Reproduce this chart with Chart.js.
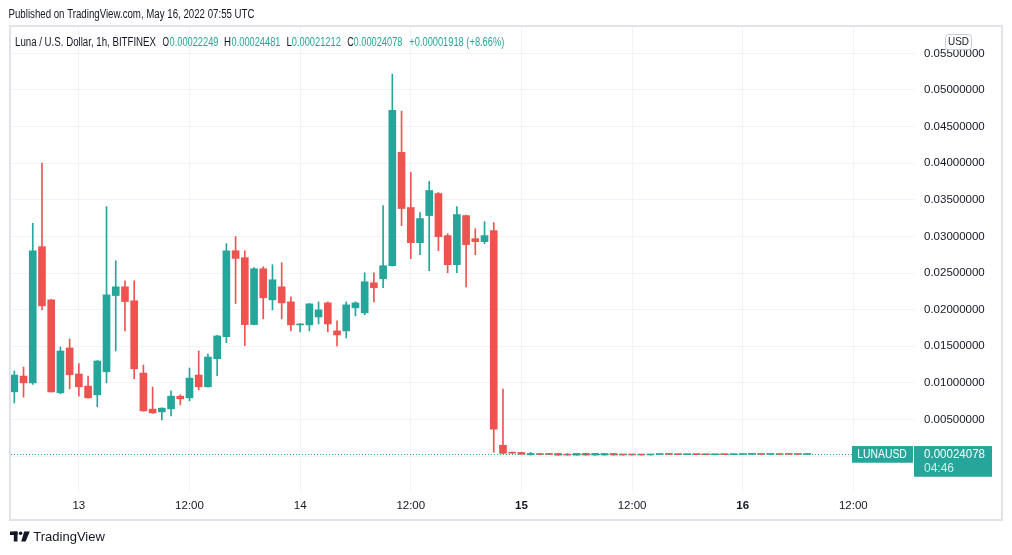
<!DOCTYPE html>
<html>
<head>
<meta charset="utf-8">
<script src="https://cdn.jsdelivr.net/npm/chart.js@4.4.1/dist/chart.umd.min.js"></script>
<style>
  html, body { margin: 0; padding: 0; background: #fff; }
  #wrap { width: 1012px; height: 555px; position: relative; }
</style>
</head>
<body>
<div id="wrap"><canvas id="chart"></canvas></div>
<script>
// LUNA/USD 1h candles, May 12 17:00 .. May 16 07:00 (UTC)
const opens = [
  0.00878, 0.01093, 0.01001, 0.02860, 0.02134, 0.00864, 0.01477, 0.01121, 0.00956, 0.00837,
  0.01152, 0.02193, 0.02312, 0.02121, 0.01134, 0.00641, 0.00604, 0.00645, 0.00819, 0.00796,
  0.01107, 0.00947, 0.01330, 0.01632, 0.02805, 0.02710, 0.01796, 0.02559, 0.02134, 0.02312,
  0.02107, 0.01792, 0.01792, 0.01901, 0.02093, 0.01710, 0.01710, 0.02025, 0.01956, 0.02367,
  0.02422, 0.02600, 0.04148, 0.03395, 0.02915, 0.03285, 0.03586, 0.03011, 0.02614, 0.03285,
  0.02970, 0.02929, 0.03079, 0.00148, 0.00052, 0.00050, 0.00018, 0.00035, 0.00036, 0.00036,
  0.00025, 0.00013, 0.00037, 0.00014, 0.00015, 0.00036, 0.00025, 0.00024, 0.00023, 0.00016,
  0.00022, 0.00026, 0.00023, 0.00020, 0.00023, 0.00021, 0.00019, 0.00022, 0.00020, 0.00022,
  0.00024, 0.00025, 0.00023, 0.00024, 0.00024, 0.00023, 0.00022249
];
const highs = [
  0.01162, 0.01216, 0.03179, 0.04001, 0.02140, 0.01490, 0.01600, 0.01262, 0.01093, 0.01305,
  0.03408, 0.02668, 0.02395, 0.02395, 0.01244, 0.00942, 0.00660, 0.00892, 0.00837, 0.01203,
  0.01436, 0.01395, 0.01648, 0.02901, 0.02997, 0.02805, 0.02573, 0.02586, 0.02614, 0.02641,
  0.02175, 0.01810, 0.02085, 0.02107, 0.02107, 0.01847, 0.02107, 0.02107, 0.02504, 0.02504,
  0.03422, 0.05216, 0.04710, 0.03874, 0.03326, 0.03751, 0.03600, 0.03038, 0.03408, 0.03292,
  0.03107, 0.03203, 0.03189, 0.00915, 0.00055, 0.00053, 0.00050, 0.00037, 0.00038, 0.00038,
  0.00036, 0.00038, 0.00039, 0.00038, 0.00038, 0.00038, 0.00027, 0.00026, 0.00025, 0.00025,
  0.00028, 0.00027, 0.00024, 0.00025, 0.00024, 0.00022, 0.00023, 0.00023, 0.00023, 0.00025,
  0.00026, 0.00026, 0.00025, 0.00025, 0.00025, 0.00024, 0.00024481
];
const lows = [
  0.00727, 0.00805, 0.00979, 0.01997, 0.00875, 0.00851, 0.00919, 0.00819, 0.00790, 0.00673,
  0.01001, 0.01436, 0.01710, 0.01056, 0.00612, 0.00585, 0.00495, 0.00549, 0.00700, 0.00755,
  0.00905, 0.00940, 0.01097, 0.01549, 0.02084, 0.01508, 0.01790, 0.01874, 0.01997, 0.01874,
  0.01710, 0.01696, 0.01710, 0.01805, 0.01696, 0.01504, 0.01614, 0.01915, 0.01929, 0.02107,
  0.02299, 0.02595, 0.03148, 0.02696, 0.02751, 0.02532, 0.02805, 0.02504, 0.02504, 0.02312,
  0.02751, 0.02901, 0.00052, 0.00036, 0.00035, 0.00022, 0.00015, 0.00019, 0.00020, 0.00011,
  0.00012, 0.00012, 0.00013, 0.00013, 0.00013, 0.00013, 0.00013, 0.00014, 0.00013, 0.00014,
  0.00020, 0.00021, 0.00019, 0.00019, 0.00020, 0.00018, 0.00018, 0.00019, 0.00019, 0.00021,
  0.00023, 0.00022, 0.00022, 0.00021, 0.00022, 0.00021, 0.00021212
];
const closes = [
  0.01107, 0.01001, 0.02805, 0.02052, 0.00878, 0.01436, 0.01111, 0.00947, 0.00796, 0.01299,
  0.02203, 0.02312, 0.02111, 0.01193, 0.00618, 0.00590, 0.00655, 0.00819, 0.00782, 0.01066,
  0.00947, 0.01353, 0.01641, 0.02805, 0.02700, 0.01796, 0.02559, 0.02162, 0.02408, 0.02093,
  0.01792, 0.01805, 0.02079, 0.01997, 0.01805, 0.01655, 0.02066, 0.02093, 0.02381, 0.02299,
  0.02600, 0.04723, 0.03381, 0.02915, 0.03244, 0.03627, 0.02997, 0.02614, 0.03299, 0.02888,
  0.02929, 0.03011, 0.00367, 0.00038, 0.00040, 0.00025, 0.00036, 0.00021, 0.00022, 0.00013,
  0.00014, 0.00037, 0.00014, 0.00037, 0.00036, 0.00015, 0.00015, 0.00016, 0.00015, 0.00023,
  0.00026, 0.00023, 0.00020, 0.00023, 0.00021, 0.00019, 0.00022, 0.00020, 0.00022, 0.00024,
  0.00025, 0.00023, 0.00024, 0.00022, 0.00023, 0.000222, 0.00024078
];

// time axis: candle index of each label (0 = May 12 17:00)
const xTickPos = [7, 19, 31, 43, 55, 67, 79, 91];
const xTickLabels = ['13', '12:00', '14', '12:00', '15', '12:00', '16', '12:00'];
const yTicks = [0, 0.005, 0.01, 0.015, 0.02, 0.025, 0.03, 0.035, 0.04, 0.045, 0.05, 0.055];

const UP = '#26a69a', DOWN = '#ef5350', TXT = '#131722', GRID = '#f0f3fa';
const FONT = '"Liberation Sans", Arial, sans-serif';

const idx = opens.map((_, i) => i);
const colors = idx.map(i => closes[i] >= opens[i] ? UP : DOWN);
const last = closes.length - 1;

const overlay = {
  id: 'overlay',
  beforeDraw(chart){
    const ctx = chart.ctx;
    ctx.save();
    ctx.fillStyle = '#fff';
    ctx.fillRect(0, 0, chart.width, chart.height);
    ctx.restore();
  },
  afterDatasetsDraw(chart){
    const ctx = chart.ctx, a = chart.chartArea;
    const py = chart.scales.y.getPixelForValue(closes[last]);
    ctx.save();
    ctx.strokeStyle = UP;
    ctx.lineWidth = 1;
    ctx.setLineDash([1, 2]);
    ctx.beginPath();
    ctx.moveTo(a.left, Math.round(py) + 0.5);
    ctx.lineTo(a.right, Math.round(py) + 0.5);
    ctx.stroke();
    ctx.restore();
  },
  afterDraw(chart){
    const ctx = chart.ctx;
    const py = chart.scales.y.getPixelForValue(closes[last]);
    ctx.save();
    // frame
    ctx.strokeStyle = '#e0e3eb';
    ctx.lineWidth = 2;
    ctx.strokeRect(10, 26, 992, 494);

    ctx.textBaseline = 'middle';
    ctx.textAlign = 'left';
    // publish line
    ctx.fillStyle = TXT;
    ctx.font = '12.5px ' + FONT;
    ctx.fillText('Published on TradingView.com, May 16, 2022 07:55 UTC', 8.5, 15, 246);

    // legend line
    const parts = [
      ['Luna / U.S. Dollar, 1h, BITFINEX', 15, 141, TXT],
      ['O', 162.5, 6.5, TXT], [opens[last].toFixed(8), 169.5, 49, UP],
      ['H', 224, 7, TXT], [highs[last].toFixed(8), 231.5, 49, UP],
      ['L', 286.5, 5.5, TXT], [lows[last].toFixed(8), 291.8, 49, UP],
      ['C', 347.2, 6.5, TXT], [closes[last].toFixed(8), 353.5, 49, UP],
      ['+0.00001918 (+8.66%)', 409.3, 95, UP]
    ];
    ctx.font = '12.5px ' + FONT;
    parts.forEach(p => { ctx.fillStyle = p[3]; ctx.fillText(p[0], p[1], 42.5, p[2]); });

    // currency badge
    ctx.fillStyle = '#fff';
    ctx.strokeStyle = '#c9ccd6';
    ctx.lineWidth = 1;
    ctx.beginPath();
    ctx.roundRect(945.5, 34.5, 26, 15, 3);
    ctx.fill();
    ctx.stroke();
    ctx.fillStyle = TXT;
    ctx.font = '11.5px ' + FONT;
    ctx.textAlign = 'center';
    ctx.fillText('USD', 958.5, 42.3, 21);

    // last price labels
    ctx.textAlign = 'left';
    ctx.fillStyle = UP;
    ctx.fillRect(852, py - 8.3, 61, 16.7);
    ctx.fillRect(914, py - 8.3, 78, 30.7);
    ctx.fillStyle = '#fff';
    ctx.font = '12px ' + FONT;
    ctx.fillText('LUNAUSD', 857.3, py + 0.3, 49.5);
    ctx.fillText(closes[last].toFixed(8), 924, py + 0.3, 61);
    ctx.fillStyle = 'rgba(255,255,255,0.8)';
    ctx.fillText('04:46', 924, py + 14.3);

    // TradingView mark
    ctx.fillStyle = TXT;
    ctx.fillRect(10, 531.5, 7.5, 3.5);
    ctx.fillRect(13.8, 531.5, 3.7, 10);
    ctx.beginPath();
    ctx.arc(20.6, 533.3, 1.8, 0, Math.PI * 2);
    ctx.fill();
    ctx.beginPath();
    ctx.moveTo(24.2, 531.5);
    ctx.lineTo(29.8, 531.5);
    ctx.lineTo(25.6, 541.5);
    ctx.lineTo(21.2, 541.5);
    ctx.closePath();
    ctx.fill();
    ctx.font = '13px ' + FONT;
    ctx.fillText('TradingView', 33.3, 537.3);
    ctx.restore();
  }
};

new Chart(document.getElementById('chart').getContext('2d'), {
  type: 'bar',
  data: {
    datasets: [
      {
        label: 'body',
        data: idx.map(i => ({ x: i, y: [opens[i], closes[i]] })),
        backgroundColor: colors,
        barThickness: 7,
        minBarLength: 1,
        grouped: false,
        order: 0
      },
      {
        label: 'wick',
        data: idx.map(i => ({ x: i, y: [lows[i], highs[i]] })),
        backgroundColor: colors,
        barThickness: 1,
        grouped: false,
        order: 1
      }
    ]
  },
  options: {
    responsive: true,
    maintainAspectRatio: false,
    animation: false,
    layout: { padding: { left: 11, right: 11, top: 27, bottom: 36 } },
    plugins: { legend: { display: false }, tooltip: { enabled: false } },
    scales: {
      x: {
        type: 'linear',
        offset: false,
        min: -0.36,
        max: 97.69,
        afterBuildTicks: s => { s.ticks = xTickPos.map(v => ({ value: v })); },
        afterFit: s => { s.height = 27; },
        grid: { color: GRID, drawTicks: false, offset: false },
        border: { display: false },
        ticks: {
          padding: 7,
          color: TXT,
          maxRotation: 0,
          autoSkip: false,
          font: c => ({ family: FONT, size: 11.5,
            weight: (c.tick && (c.tick.value === 55 || c.tick.value === 79)) ? 'bold' : 'normal' }),
          callback: (v, i) => xTickLabels[i]
        }
      },
      y: {
        position: 'right',
        min: -0.0049,
        max: 0.0586,
        afterBuildTicks: s => { s.ticks = yTicks.map(v => ({ value: v })); },
        afterFit: s => { s.width = 86; },
        grid: { color: GRID, drawTicks: false },
        border: { display: false },
        ticks: {
          padding: 9,
          color: TXT,
          font: { family: FONT, size: 11.5 },
          callback: v => v.toFixed(8)
        }
      }
    }
  },
  plugins: [overlay]
});
</script>
</body>
</html>
